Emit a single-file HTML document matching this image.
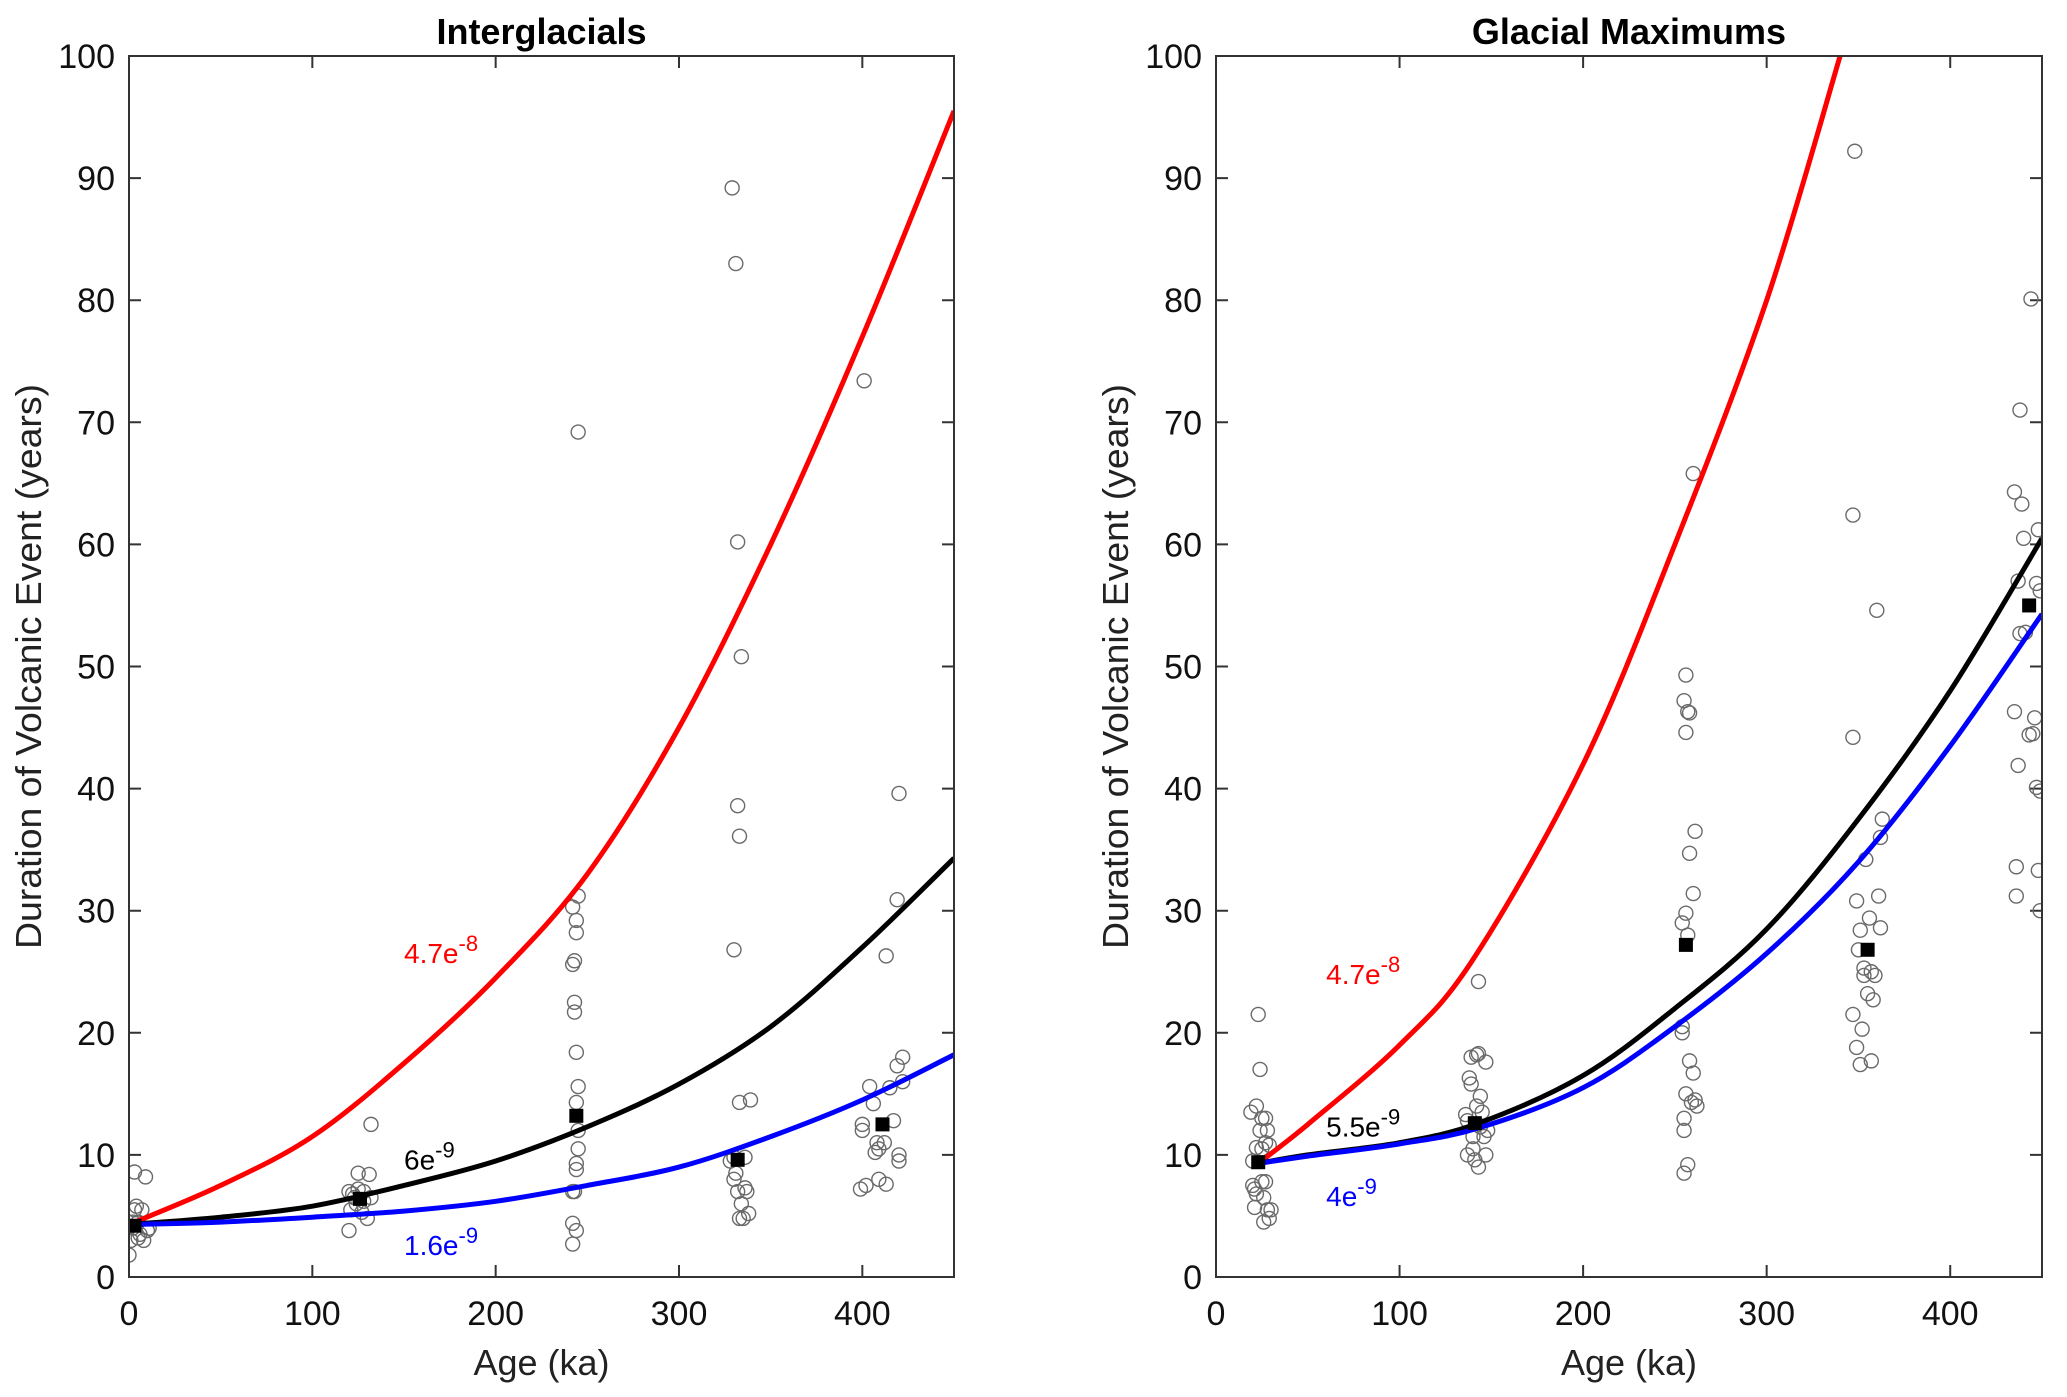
<!DOCTYPE html>
<html><head><meta charset="utf-8">
<style>
html,body{margin:0;padding:0;background:#fff;}
svg{display:block;font-family:"Liberation Sans",Arial,sans-serif;}
</style></head>
<body>
<svg id="fig" width="2067" height="1397" viewBox="0 0 2067 1397" xmlns="http://www.w3.org/2000/svg"></svg>
<script>
// ---- data ----
const xTicks = [0,100,200,300,400];
const yTicks = [0,10,20,30,40,50,60,70,80,90,100];

// Interglacials
const igCurveX = [0,50,100,150,200,250,300,350,400,450];
const igRed   = [4.3,7.5,11.5,17.5,24.5,33,45,60,77,95.5];
const igBlack = [4.3,4.9,5.8,7.5,9.5,12.3,15.8,20.5,27,34.3];
const igBlue  = [4.3,4.5,4.9,5.4,6.2,7.5,9,11.5,14.5,18.2];
const igPtsX = [0,1,2,3,3,4,5,6,7,8,9,10,11,2,5,
 120,120,121,122,123,125,125,127,128,130,131,132,132,128,124,
 242,242,244,242,243,244,244,245,245,244,245,244,243,243,242,243,244,244,242,245,245,
 329,331,332,334,332,333,330,333,339,328,330,331,330,332,334,337,335,333,338,336,336,
 401,420,419,413,422,419,422,404,415,406,400,400,417,408,409,407,420,420,402,399,409,413,412];
const igPtsY = [1.8,3,4,8.6,5.5,5.8,4.5,3.5,5.5,3,8.2,3.8,4,4.5,3.2,
 3.8,7,5.5,6.8,6.5,7.2,8.5,5.3,6.2,4.8,8.4,6.5,12.5,7,6,
 2.7,4.4,3.8,7,7,8.8,9.3,10.5,12,14.3,15.6,18.4,21.7,22.5,25.6,25.9,28.2,29.2,30.3,31.2,69.2,
 89.2,83,60.2,50.8,38.6,36.1,26.8,14.3,14.5,9.5,9.8,8.5,8,7,6,7,4.8,4.8,5.2,7.3,9.8,
 73.4,39.6,30.9,26.3,18,17.3,16,15.6,15.5,14.2,12.5,12,12.8,11,10.5,10.2,10,9.5,7.5,7.2,8,7.6,11];
const igMeanX = [3,126,244,332,411];
const igMeanY = [4.2,6.4,13.2,9.6,12.5];

// Glacial maximums
const gmRedX   = [23,50,100,140,200,250,300,340];
const gmRed    = [9.3,12.5,19,26,42,60,80,100];
const gmCurveX = [23,50,100,143,200,250,300,350,400,450];
const gmBlack  = [9.3,10,11,12.6,16.5,22,28.5,37.5,48,60.5];
const gmBlue   = [9.3,9.9,10.9,12.2,15.5,20.5,26.5,34,43.5,54.3];
const gmPtsX = [19,20,20,21,22,22,22,23,24,24,25,25,25,26,26,27,27,27,28,28,29,29,30,21,
 136,137,137,138,139,139,140,140,141,142,142,143,143,143,144,144,145,146,147,147,148,
 254,254,254,255,255,255,255,256,256,256,256,257,257,257,258,258,258,259,260,260,261,261,262,260,
 347,348,347,347,349,349,350,351,351,352,353,353,354,355,356,357,357,358,359,360,361,362,362,363,
 435,435,436,436,437,437,438,438,439,440,441,443,444,445,446,447,447,448,448,449,449,449];
const gmPtsY = [13.5,9.5,7.5,5.7,14,10.6,6.8,21.5,12,17,13,10.5,7.8,4.5,6.5,13,11,7.8,12,5.5,4.8,10.8,5.5,7.2,
 13.3,12.8,10,16.3,15.8,18,10.5,11.5,9.6,14,18.2,18.3,24.2,9,12.3,14.8,13.5,11.5,17.6,10,12,
 20.5,20,29,47.2,12,13,8.5,49.3,44.6,29.8,15,46.3,28,9.2,46.2,34.7,17.7,14.3,31.4,16.7,36.5,14.5,14,65.8,
 62.4,92.2,44.2,21.5,18.8,30.8,26.8,28.4,17.4,20.3,24.7,25.3,34.2,23.2,29.4,25,17.7,22.7,24.7,54.6,31.2,28.6,36,37.5,
 64.3,46.3,33.6,31.2,41.9,57,71,52.7,63.3,60.5,52.8,44.4,80.1,44.5,45.8,56.8,40.1,61.2,33.3,30,56.2,39.8];
const gmMeanX = [23,141,256,355,443];
const gmMeanY = [9.4,12.6,27.2,26.8,55];

// ---- drawing ----
const NS = "http://www.w3.org/2000/svg";
const svg = document.getElementById('fig');
function mk(tag, attrs, parent){
  const e = document.createElementNS(NS, tag);
  for (const k in attrs) e.setAttribute(k, attrs[k]);
  (parent||svg).appendChild(e);
  return e;
}
function smoothPath(P){
  let d = 'M' + P[0][0].toFixed(1) + ',' + P[0][1].toFixed(1);
  for (let i=0;i<P.length-1;i++){
    const p0 = P[Math.max(0,i-1)], p1 = P[i], p2 = P[i+1], p3 = P[Math.min(P.length-1,i+2)];
    const c1x = p1[0] + (p2[0]-p0[0])/6, c1y = p1[1] + (p2[1]-p0[1])/6;
    const c2x = p2[0] - (p3[0]-p1[0])/6, c2y = p2[1] - (p3[1]-p1[1])/6;
    d += `C${c1x.toFixed(1)},${c1y.toFixed(1)} ${c2x.toFixed(1)},${c2y.toFixed(1)} ${p2[0].toFixed(1)},${p2[1].toFixed(1)}`;
  }
  return d;
}
const T = 56, B = 1277;
function panel(id, L, R, title, curves, ptsX, ptsY, mX, mY, labels){
  const g = mk('g', {});
  
  
  const sx = v => L + v/450*(R-L);
  const sy = v => B - v/100*(B-T);
  const defs = mk('defs', {}, g);
  const cp = mk('clipPath', {id: id+'-clip'}, defs);
  mk('rect', {x:L, y:T, width:R-L, height:B-T}, cp);
  for (const t of xTicks){
    const x = sx(t);
    const tk = mk('path', {d:`M${x},${B}v-12M${x},${T}v12`, stroke:'#333', 'stroke-width':2}, g);
    
    
    const tl = mk('text', {x:x, y:B+48, 'text-anchor':'middle', 'font-size':34, fill:'#111'}, g);
    tl.textContent = t;
    
    
  }
  for (const t of yTicks){
    const y = sy(t);
    const tk = mk('path', {d:`M${L},${y}h12M${R},${y}h-12`, stroke:'#333', 'stroke-width':2}, g);
    
    
    const tl = mk('text', {x:L-14, y:y+12, 'text-anchor':'end', 'font-size':34, fill:'#111'}, g);
    tl.textContent = t;
    
    
  }
  const pg = mk('g', {'clip-path':`url(#${id}-clip)`}, g);
  for (let i=0;i<ptsX.length;i++){
    const c = mk('circle', {cx:sx(ptsX[i]), cy:sy(ptsY[i]), r:7, fill:'none', stroke:'#6a6a6a', 'stroke-width':1.4}, pg);
    
    
  }
  for (const cv of curves){
    const P = cv.x.map((v,i)=>[sx(v), sy(cv.y[i])]);
    const p = mk('path', {d:smoothPath(P), fill:'none', stroke:cv.color, 'stroke-width':5, 'stroke-linejoin':'round'}, pg);
    
    
  }
  for (let i=0;i<mX.length;i++){
    const s = mk('rect', {x:sx(mX[i])-7, y:sy(mY[i])-7, width:14, height:14, fill:'#000'}, pg);
    
    
  }
  for (const lb of labels){
    const t = mk('text', {x:sx(lb.x), y:sy(lb.y), 'font-size':28, fill:lb.color}, g);
    
    
    t.appendChild(document.createTextNode(lb.base));
    const sup = mk('tspan', {dy:-12, 'font-size':22}, t);
    sup.textContent = lb.exp;
  }
  const fr = mk('rect', {x:L, y:T, width:R-L, height:B-T, fill:'none', stroke:'#333', 'stroke-width':2}, g);
  
  
  const tt = mk('text', {x:(L+R)/2, y:44, 'text-anchor':'middle', 'font-size':36, 'font-weight':'bold', fill:'#000'}, g);
  tt.textContent = title;
  
  
  const xt = mk('text', {x:(L+R)/2, y:1375, 'text-anchor':'middle', 'font-size':36, fill:'#222'}, g);
  xt.textContent = 'Age (ka)';
  
  
  const yx = L - 88, yy = (T+B)/2;
  const yt = mk('text', {x:yx, y:yy, 'text-anchor':'middle', 'font-size':36, fill:'#222', transform:`rotate(-90 ${yx} ${yy})`, textLength:565, lengthAdjust:'spacingAndGlyphs'}, g);
  yt.textContent = 'Duration of Volcanic Event (years)';
  
  
}
panel('interglacials', 129, 954, 'Interglacials',
  [{name:'curve-4.7e-8', color:'#ff0000', x:igCurveX, y:igRed},
   {name:'curve-6e-9', color:'#000', x:igCurveX, y:igBlack},
   {name:'curve-1.6e-9', color:'#0000ff', x:igCurveX, y:igBlue}],
  igPtsX, igPtsY, igMeanX, igMeanY,
  [{name:'label-4.7e-8', color:'#ff0000', x:150, y:25.7, base:'4.7e', exp:'-8'},
   {name:'label-6e-9', color:'#000', x:150, y:8.8, base:'6e', exp:'-9'},
   {name:'label-1.6e-9', color:'#0000ff', x:150, y:1.8, base:'1.6e', exp:'-9'}]);
panel('glacial-maximums', 1216, 2042, 'Glacial Maximums',
  [{name:'curve-4.7e-8', color:'#ff0000', x:gmRedX, y:gmRed},
   {name:'curve-5.5e-9', color:'#000', x:gmCurveX, y:gmBlack},
   {name:'curve-4e-9', color:'#0000ff', x:gmCurveX, y:gmBlue}],
  gmPtsX, gmPtsY, gmMeanX, gmMeanY,
  [{name:'label-4.7e-8', color:'#ff0000', x:60, y:24, base:'4.7e', exp:'-8'},
   {name:'label-5.5e-9', color:'#000', x:60, y:11.5, base:'5.5e', exp:'-9'},
   {name:'label-4e-9', color:'#0000ff', x:60, y:5.8, base:'4e', exp:'-9'}]);
</script>
</body></html>
